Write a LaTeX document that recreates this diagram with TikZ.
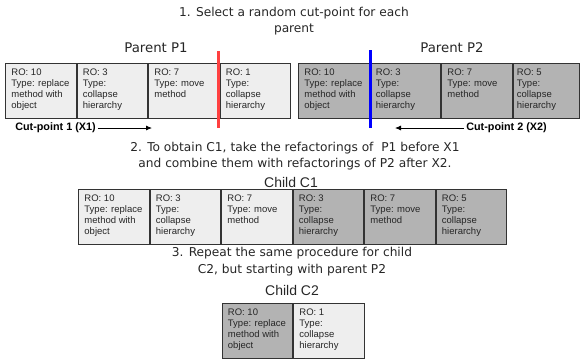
\documentclass[tikz,border=0pt]{standalone}
\usepackage{fontspec}
\setmainfont{Liberation Sans}
\newfontfamily\dejavu{DejaVu Sans}
\usetikzlibrary{arrows.meta}
\definecolor{lightcell}{HTML}{EEEEEE}
\definecolor{darkcell}{HTML}{B3B3B3}
\definecolor{cellborder}{HTML}{333333}
\definecolor{cutred}{HTML}{FF4040}
\definecolor{cutblue}{HTML}{0000FF}
\newcommand{\celltext}[1]{\begin{minipage}[t][44pt][t]{58.5pt}\fontsize{9.5}{11}\selectfont\raggedright #1\end{minipage}}
\tikzset{
  cell/.style={draw=cellborder, line width=0.9pt, anchor=north west, inner xsep=6pt, inner ysep=5.5pt, text=black!85},
  lightc/.style={cell, fill=lightcell},
  darkc/.style={cell, fill=darkcell},
  steptext/.style={align=center, font=\dejavu\fontsize{12.2}{16.5}\selectfont, text=black!85, inner sep=0pt},
  parenttitle/.style={font=\dejavu\fontsize{13.3}{15}\selectfont, text=black!85, inner sep=0pt},
  childtitle/.style={font=\fontsize{14}{16}\selectfont, text=black!85, inner sep=0pt},
  cutlabel/.style={font=\bfseries\fontsize{10.8}{12}\selectfont, inner sep=2pt},
  cutarrow/.style={line width=0.8pt, -{Latex[length=6pt,width=5pt]}},
}
\begin{document}
\begin{tikzpicture}[x=1pt,y=-1pt]
\useasboundingbox (0,0) rectangle (580,360);

% step 1
\node[steptext] (s1) at (294,21) {1. Select a random cut-point for each\\parent};
\node[parenttitle] (tp1) at (156,48) {Parent P1};
\node[parenttitle] (tp2) at (452,48) {Parent P2};

% parent P1
\node[lightc] (p1a) at (5,63) {\celltext{RO: 10\\Type: replace\\method with\\object}};
\node[lightc] (p1b) at (76.5,63) {\celltext{RO: 3\\Type:\\collapse\\hierarchy}};
\node[lightc] (p1c) at (148,63) {\celltext{RO: 7\\Type: move\\method}};
\node[lightc] (p1d) at (219.5,63) {\celltext{RO: 1\\Type:\\collapse\\hierarchy}};

% parent P2
\node[darkc] (p2a) at (298,63) {\celltext{RO: 10\\Type: replace\\method with\\object}};
\node[darkc] (p2b) at (369.5,63) {\celltext{RO: 3\\Type:\\collapse\\hierarchy}};
\node[darkc] (p2c) at (441,63) {\celltext{RO: 7\\Type: move\\method}};
\node[darkc, inner xsep=4pt] (p2d) at (512.5,63) {\celltext{RO: 5\\Type:\\collapse\\hierarchy}};

% cut lines
\coordinate (r1) at (218.5,51);
\coordinate (r2) at (218.5,128);
\draw[cutred, line width=3pt] (r1) -- (r2);
\coordinate (b1) at (370,50);
\coordinate (b2) at (370,128);
\draw[cutblue, line width=3pt] (b1) -- (b2);

% cut-point labels
\node[cutlabel] (x1) at (55.5,128) {Cut-point 1 (X1)};
\coordinate (x1end) at (152,128);
\draw[cutarrow] (x1.east) -- (x1end);
\node[cutlabel] (x2) at (506.5,128) {Cut-point 2 (X2)};
\coordinate (x2end) at (395,128);
\draw[cutarrow] (x2.west) -- (x2end);

% step 2
\node[steptext] (s2) at (295,156) {2. To obtain C1, take the refactorings of \ P1 before X1\\and combine them with refactorings of P2 after X2.};
\node[childtitle] (tc1) at (291,182) {Child C1};

% child C1
\node[lightc] (c1a) at (78,189) {\celltext{RO: 10\\Type: replace\\method with\\object}};
\node[lightc] (c1b) at (149.5,189) {\celltext{RO: 3\\Type:\\collapse\\hierarchy}};
\node[lightc] (c1c) at (221,189) {\celltext{RO: 7\\Type: move\\method}};
\node[darkc] (c1d) at (292.5,189) {\celltext{RO: 3\\Type:\\collapse\\hierarchy}};
\node[darkc] (c1e) at (364,189) {\celltext{RO: 7\\Type: move\\method}};
\node[darkc] (c1f) at (435.5,189) {\celltext{RO: 5\\Type:\\collapse\\hierarchy}};

% step 3
\node[steptext] (s3) at (292,261.5) {3. Repeat the same procedure for child\\C2, but starting with parent P2};
\node[childtitle] (tc2) at (292,290) {Child C2};

% child C2
\node[darkc] (c2a) at (221.5,303) {\celltext{RO: 10\\Type: replace\\method with\\object}};
\node[lightc] (c2b) at (293,303) {\celltext{RO: 1\\Type:\\collapse\\hierarchy}};
\end{tikzpicture}
\end{document}
